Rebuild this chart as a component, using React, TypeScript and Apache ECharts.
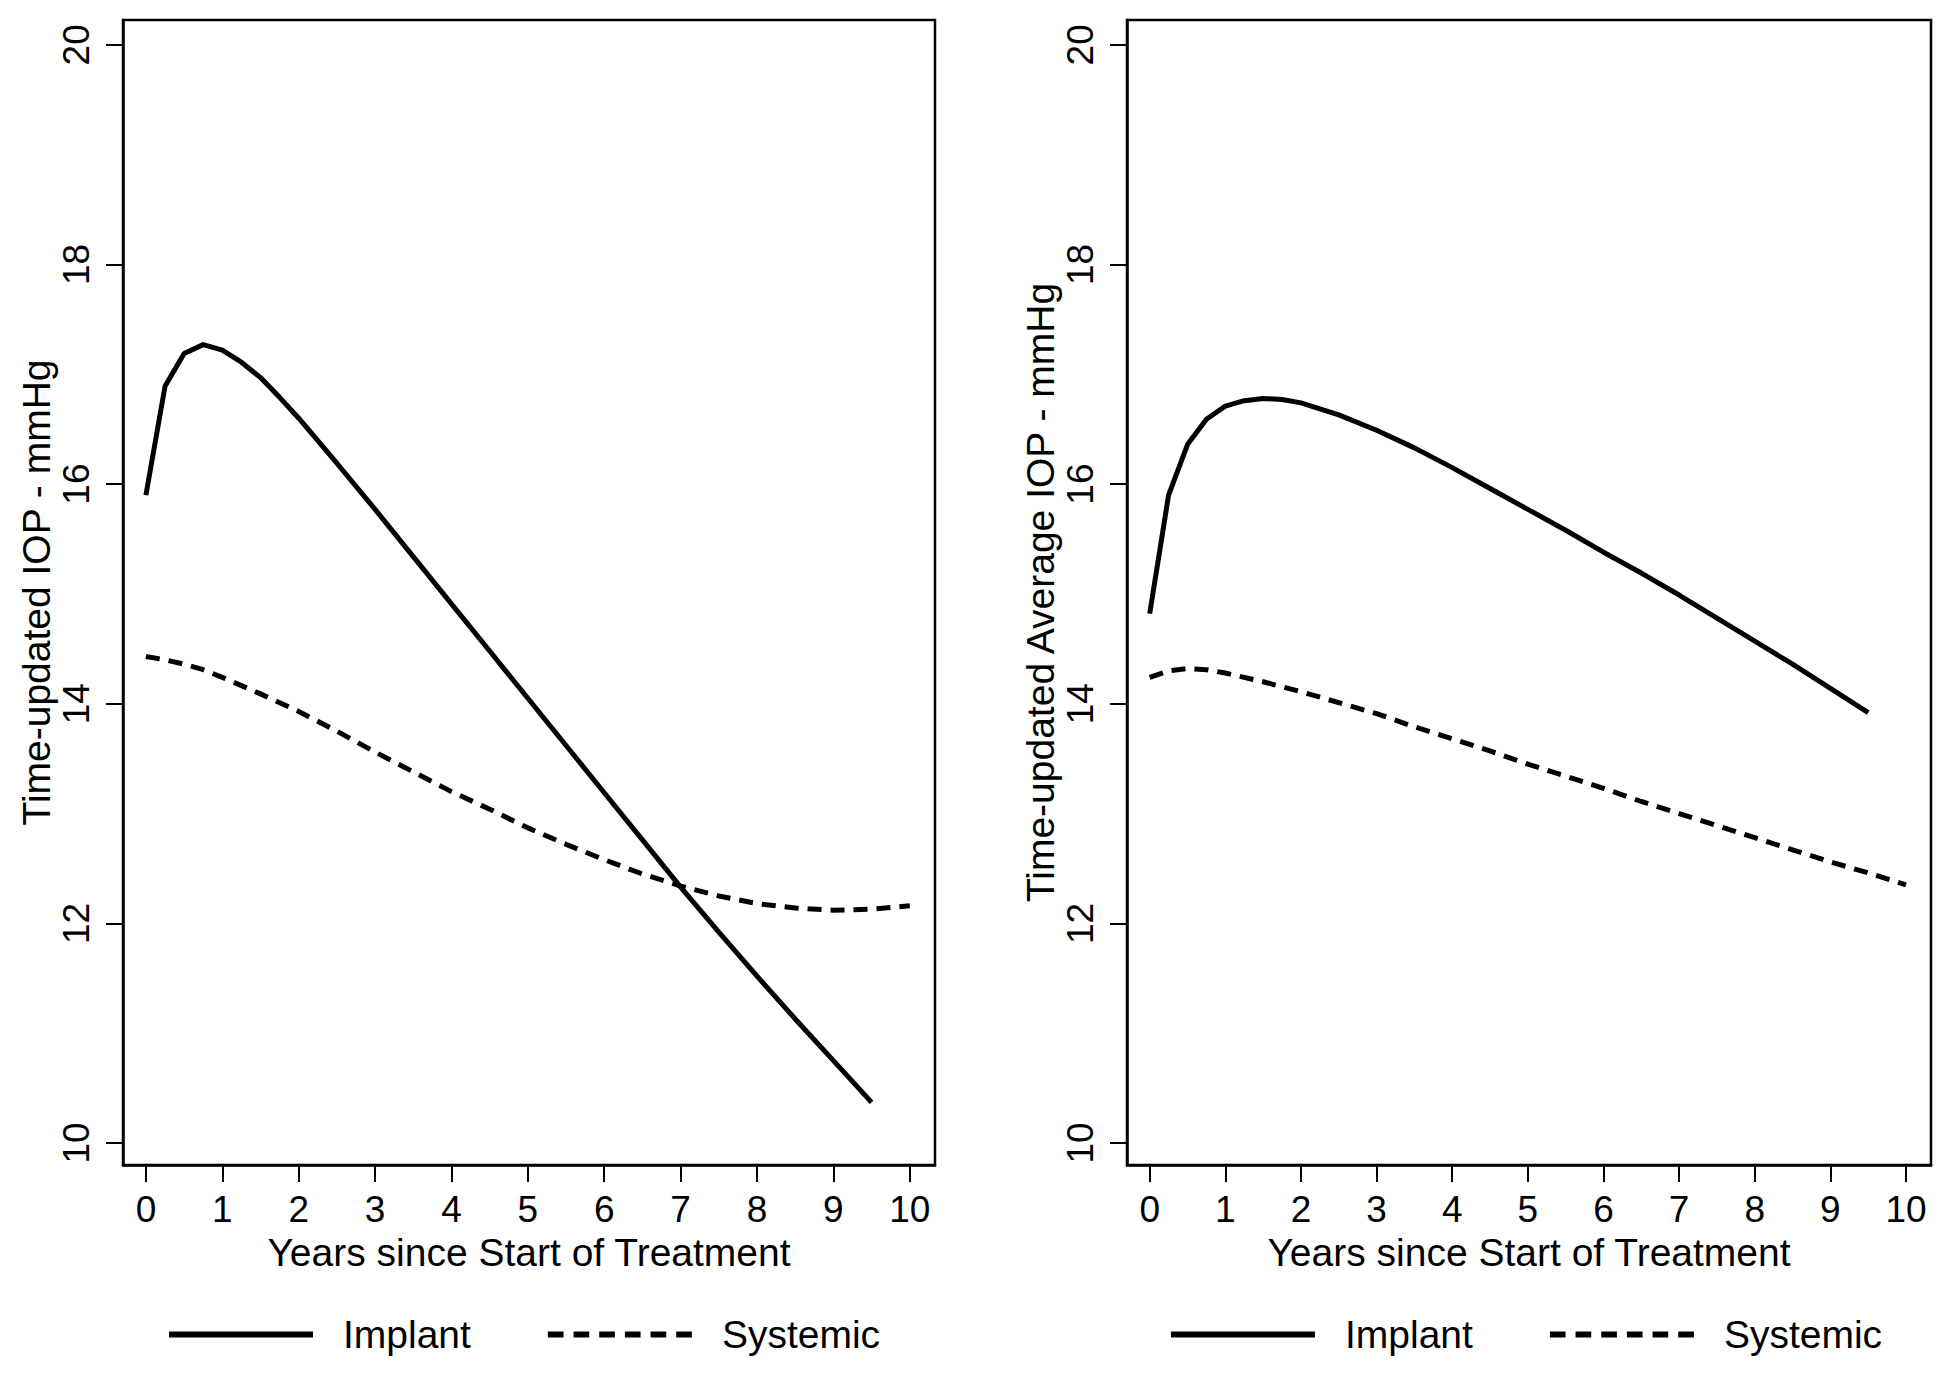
import React, { useEffect, useRef } from 'react';
import * as echarts from 'echarts';

// ---- data ----
const xTickValues = [0, 1, 2, 3, 4, 5, 6, 7, 8, 9, 10];
const yTickValues = [10, 12, 14, 16, 18, 20];

const implantYears = [0, 0.25, 0.5, 0.75, 1, 1.25, 1.5, 1.75, 2, 2.5, 3, 3.5, 4, 4.5, 5, 5.5, 6, 6.5, 7, 7.5, 8, 8.5, 9, 9.5];
const implantIOP = [15.90, 16.89, 17.19, 17.27, 17.22, 17.11, 16.97, 16.79, 16.60, 16.19, 15.77, 15.34, 14.91, 14.48, 14.05, 13.62, 13.19, 12.76, 12.33, 11.92, 11.52, 11.13, 10.75, 10.37];
const implantAvgIOP = [14.82, 15.90, 16.36, 16.59, 16.71, 16.76, 16.78, 16.77, 16.74, 16.63, 16.49, 16.33, 16.15, 15.96, 15.77, 15.58, 15.38, 15.19, 14.99, 14.78, 14.57, 14.36, 14.14, 13.92];

const systemicYears = [0, 0.25, 0.5, 0.75, 1, 1.5, 2, 2.5, 3, 3.5, 4, 4.5, 5, 5.5, 6, 6.5, 7, 7.5, 8, 8.5, 9, 9.5, 10];
const systemicIOP = [14.43, 14.40, 14.36, 14.31, 14.24, 14.09, 13.93, 13.75, 13.56, 13.38, 13.20, 13.04, 12.87, 12.72, 12.58, 12.45, 12.34, 12.25, 12.18, 12.14, 12.12, 12.13, 12.16];
const systemicAvgIOP = [14.24, 14.30, 14.32, 14.31, 14.28, 14.20, 14.11, 14.01, 13.91, 13.79, 13.68, 13.57, 13.45, 13.34, 13.23, 13.11, 13.00, 12.89, 12.78, 12.67, 12.56, 12.46, 12.35];

const seriesNames = ['Implant', 'Systemic'];
const xAxisTitle = 'Years since Start of Treatment';
const yAxisTitles = ['Time-updated IOP - mmHg', 'Time-updated Average IOP - mmHg'];

const FONT = '"Liberation Sans", Arial, Helvetica, sans-serif';

const pairs = (xs: number[], ys: number[]) => xs.map((x, i) => [x, ys[i]]);

const dashIconPath = (() => {
  let d = '';
  for (let i = 0; i < 6; i++) {
    const x0 = i * 26.2;
    d += `M${x0} 0h16v6h-16z`;
  }
  return 'path://' + d;
})();

export default function App() {
  const ref = useRef<HTMLDivElement>(null);

  useEffect(() => {
    if (!ref.current) return;
    const chart = echarts.init(ref.current, null, { renderer: 'svg' });

    const grids = [
      { left: 123, top: 20, width: 812, height: 1145 },
      { left: 1127, top: 20, width: 804, height: 1145 },
    ];

    const mkX = (gi: number) => ({
      type: 'value',
      gridIndex: gi,
      min: -0.3,
      max: 10.33,
      name: xAxisTitle,
      nameLocation: 'middle',
      nameGap: 64,
      nameTextStyle: { fontFamily: FONT, fontSize: 39, color: '#000' },
      axisLine: { show: true, onZero: false, lineStyle: { color: '#000', width: 2.5 } },
      axisTick: { show: true, inside: false, length: 17, customValues: xTickValues, lineStyle: { color: '#000', width: 2 } },
      axisLabel: { show: true, customValues: xTickValues, margin: 26, fontFamily: FONT, fontSize: 37, color: '#000' },
      splitLine: { show: false },
    });

    const mkY = (gi: number) => ({
      type: 'value',
      gridIndex: gi,
      min: 9.8,
      max: 20.226,
      name: yAxisTitles[gi],
      nameLocation: 'middle',
      nameGap: 67,
      nameTextStyle: { fontFamily: FONT, fontSize: 39, color: '#000' },
      axisLine: { show: true, onZero: false, lineStyle: { color: '#000', width: 2.5 } },
      axisTick: { show: true, inside: false, length: 17, customValues: yTickValues, lineStyle: { color: '#000', width: 2 } },
      axisLabel: { show: true, customValues: yTickValues, rotate: 90, margin: 28, fontFamily: FONT, fontSize: 37, color: '#000' },
      splitLine: { show: false },
    });

    const solid = { color: '#000', width: 5, type: 'solid' as const };
    const dashed = { color: '#000', width: 5, type: [14, 9] as any };

    const mkLegend = (left: number) => ({
      left,
      top: 1310,
      orient: 'horizontal',
      itemWidth: 144,
      itemHeight: 6,
      itemGap: 77,
      selectedMode: false,
      itemStyle: { borderWidth: 0, color: '#000' },
      textStyle: { fontFamily: FONT, fontSize: 39, color: '#000', padding: [0, 0, 0, 25] },
      data: [
        { name: seriesNames[0], icon: 'rect' },
        { name: seriesNames[1], icon: dashIconPath },
      ],
    });

    chart.setOption({
      animation: false,
      backgroundColor: '#fff',
      grid: grids.map((g) => ({ ...g, show: true, borderColor: '#000', borderWidth: 2.5, backgroundColor: '#fff' })),
      xAxis: [mkX(0), mkX(1)],
      yAxis: [mkY(0), mkY(1)],
      legend: [mkLegend(164), mkLegend(1166)],
      series: [
        { name: seriesNames[0], type: 'line', xAxisIndex: 0, yAxisIndex: 0, data: pairs(implantYears, implantIOP), symbol: 'none', lineStyle: solid, itemStyle: { color: '#000' } },
        { name: seriesNames[1], type: 'line', xAxisIndex: 0, yAxisIndex: 0, data: pairs(systemicYears, systemicIOP), symbol: 'none', lineStyle: dashed, itemStyle: { color: '#000' } },
        { name: seriesNames[0], type: 'line', xAxisIndex: 1, yAxisIndex: 1, data: pairs(implantYears, implantAvgIOP), symbol: 'none', lineStyle: solid, itemStyle: { color: '#000' } },
        { name: seriesNames[1], type: 'line', xAxisIndex: 1, yAxisIndex: 1, data: pairs(systemicYears, systemicAvgIOP), symbol: 'none', lineStyle: dashed, itemStyle: { color: '#000' } },
      ],
    });

    return () => chart.dispose();
  }, []);

  return (
    <div
      ref={ref}
      style={{ position: 'absolute', left: 0, top: 0, width: 1950, height: 1374, background: '#fff' }}
    />
  );
}
